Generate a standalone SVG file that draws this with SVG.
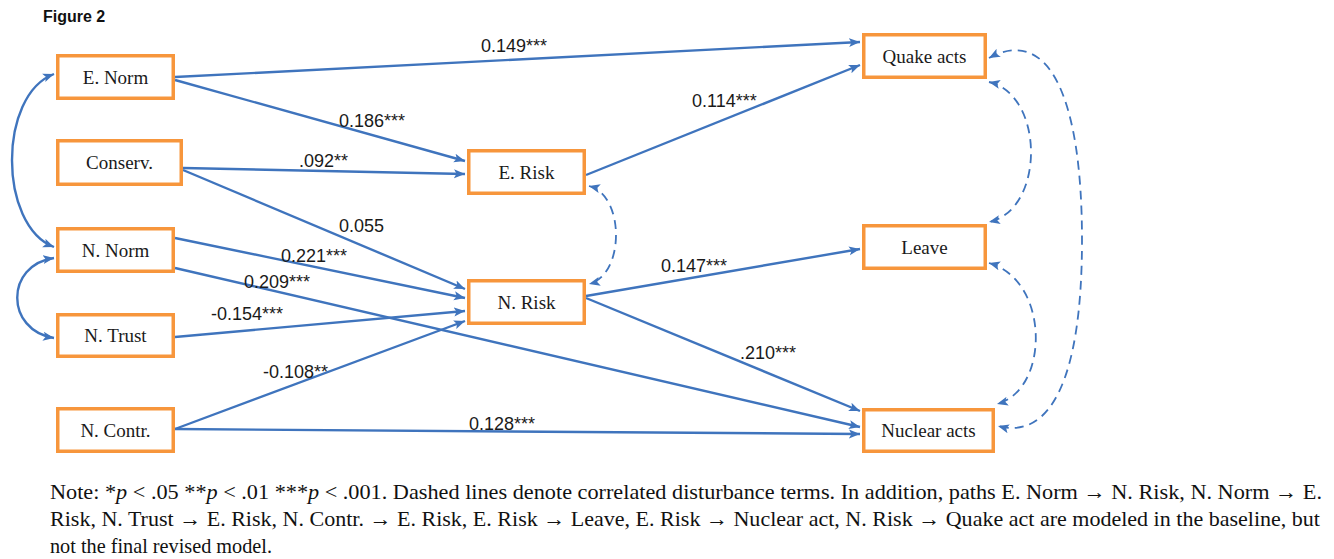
<svg xmlns="http://www.w3.org/2000/svg" width="1334" height="559" viewBox="0 0 1334 559">
<style>
.box{fill:#fff;stroke:#F7963C;stroke-width:3.5}
.nt{font-family:"Liberation Serif",serif;font-size:19px;fill:#1a1a1a;text-anchor:middle}
.ln{fill:none;stroke:#3F74BD;stroke-width:2.4}
.ds{fill:none;stroke:#3F74BD;stroke-width:1.8;stroke-dasharray:9,6}
.lb{font-family:"Liberation Sans",sans-serif;font-size:18px;fill:#1a1a1a}
.note{font-family:"Liberation Serif",serif;font-size:21px;fill:#111}
</style>
<defs>
<marker id="ah" markerUnits="userSpaceOnUse" markerWidth="12" markerHeight="10" refX="11" refY="5" orient="auto-start-reverse">
<path d="M0,0.5 L11,5 L0,9.5 L2.5,5 z" fill="#3F74BD"/>
</marker>
</defs>
<rect width="1334" height="559" fill="#fff"/>
<text x="43" y="22" font-family="Liberation Sans,sans-serif" font-size="16" font-weight="bold" fill="#111">Figure 2</text>

<g id="connectors">
<path class="ln" d="M175,77 L860,42" marker-end="url(#ah)"/>
<path class="ln" d="M175,80 L465,161" marker-end="url(#ah)"/>
<path class="ln" d="M183,168 L465,174" marker-end="url(#ah)"/>
<path class="ln" d="M183,170 L465,289" marker-end="url(#ah)"/>
<path class="ln" d="M175,238 L465,298" marker-end="url(#ah)"/>
<path class="ln" d="M175,268 L860,427" marker-end="url(#ah)"/>
<path class="ln" d="M175,337 L465,311" marker-end="url(#ah)"/>
<path class="ln" d="M175,429 L465,321" marker-end="url(#ah)"/>
<path class="ln" d="M175,429 L860,434" marker-end="url(#ah)"/>
<path class="ln" d="M586,175 L860,65" marker-end="url(#ah)"/>
<path class="ln" d="M586,296 L860,249" marker-end="url(#ah)"/>
<path class="ln" d="M586,298 L860,411" marker-end="url(#ah)"/>
<path class="ln" d="M54,74 C-2,95 -2,225 54,247" marker-start="url(#ah)" marker-end="url(#ah)"/>
<path class="ln" d="M54,258 C5,265 5,330 54,338" marker-start="url(#ah)" marker-end="url(#ah)"/>
<path class="ds" d="M589,186 C625,195 625,275 589,284" marker-start="url(#ah)" marker-end="url(#ah)"/>
<path class="ds" d="M989,82 C1045,95 1045,210 989,222" marker-start="url(#ah)" marker-end="url(#ah)"/>
<path class="ds" d="M989,263 C1050,280 1050,390 997,404" marker-start="url(#ah)" marker-end="url(#ah)"/>
<path class="ds" d="M989,58 C1050,25 1082,100 1082,240 C1082,380 1050,440 998,426" marker-start="url(#ah)" marker-end="url(#ah)"/>
<text class="lb" x="481" y="52">0.149***</text>
<text class="lb" x="339" y="127">0.186***</text>
<text class="lb" x="299" y="167">.092**</text>
<text class="lb" x="339" y="232">0.055</text>
<text class="lb" x="281" y="262">0.221***</text>
<text class="lb" x="244" y="288">0.209***</text>
<text class="lb" x="211" y="320">-0.154***</text>
<text class="lb" x="263" y="378">-0.108**</text>
<text class="lb" x="469" y="430">0.128***</text>
<text class="lb" x="692" y="107">0.114***</text>
<text class="lb" x="661" y="272">0.147***</text>
<text class="lb" x="740" y="359">.210***</text>
</g>

<g id="e-norm"><rect class="box" x="57.75" y="55.75" width="115.5" height="42.5"/><text class="nt" x="115.5" y="84">E. Norm</text></g>
<g id="conserv"><rect class="box" x="57.75" y="140.75" width="123.5" height="43.5"/><text class="nt" x="119.5" y="169">Conserv.</text></g>
<g id="n-norm"><rect class="box" x="57.75" y="228.75" width="115.5" height="42.5"/><text class="nt" x="115.5" y="257">N. Norm</text></g>
<g id="n-trust"><rect class="box" x="57.75" y="314.75" width="115.5" height="41.5"/><text class="nt" x="115.5" y="342">N. Trust</text></g>
<g id="n-contr"><rect class="box" x="57.75" y="408.75" width="115.5" height="42.5"/><text class="nt" x="115.5" y="437">N. Contr.</text></g>
<g id="e-risk"><rect class="box" x="468.75" y="150.75" width="115.5" height="42.5"/><text class="nt" x="526.5" y="179">E. Risk</text></g>
<g id="n-risk"><rect class="box" x="468.75" y="280.75" width="115.5" height="42.5"/><text class="nt" x="526.5" y="309">N. Risk</text></g>
<g id="quake-acts"><rect class="box" x="863.75" y="34.75" width="121.5" height="42.5"/><text class="nt" x="924.5" y="63">Quake acts</text></g>
<g id="leave"><rect class="box" x="863.75" y="225.75" width="121.5" height="42.5"/><text class="nt" x="924.5" y="254">Leave</text></g>
<g id="nuclear-acts"><rect class="box" x="863.75" y="409.75" width="129.5" height="41.5"/><text class="nt" x="928.5" y="437">Nuclear acts</text></g>

<text class="note" x="50" y="499" textLength="1272" lengthAdjust="spacingAndGlyphs">Note: *<tspan font-style="italic">p</tspan> &lt; .05 **<tspan font-style="italic">p</tspan> &lt; .01 ***<tspan font-style="italic">p</tspan> &lt; .001. Dashed lines denote correlated disturbance terms. In addition, paths E. Norm → N. Risk, N. Norm → E.</text>
<text class="note" x="50" y="526" textLength="1270" lengthAdjust="spacingAndGlyphs">Risk, N. Trust → E. Risk, N. Contr. → E. Risk, E. Risk → Leave, E. Risk → Nuclear act, N. Risk → Quake act are modeled in the baseline, but</text>
<text class="note" x="50" y="553" textLength="222" lengthAdjust="spacingAndGlyphs">not the final revised model.</text>
</svg>
